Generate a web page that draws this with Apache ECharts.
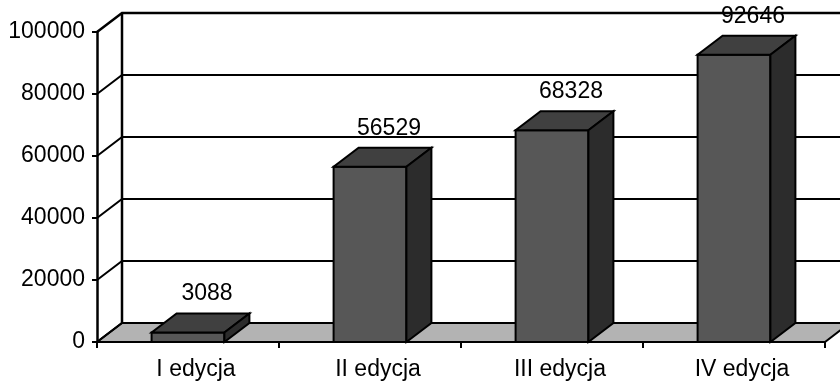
<!DOCTYPE html>
<html>
<head>
<meta charset="utf-8">
<script src="https://cdn.jsdelivr.net/npm/echarts@6/dist/echarts.min.js"></script>
<style>
  html, body { margin: 0; padding: 0; background: #fff; }
  #chart { width: 840px; height: 381px; }
</style>
</head>
<body>
<div id="chart"></div>
<script>
// Data
const categories = ['I edycja', 'II edycja', 'III edycja', 'IV edycja'];
const values = [3088, 56529, 68328, 92646];
const yTicks = [0, 20000, 40000, 60000, 80000, 100000];

// 3D depth offset of walls, floor and bars
const DX = 25, DY = -19;
const FONT = '"Liberation Sans", Arial, sans-serif';
const yMax = yTicks[yTicks.length - 1];

const chart = echarts.init(document.getElementById('chart'), null, { renderer: 'canvas' });

function floorItem(params, api) {
  const cs = params.coordSys;
  const y0 = api.coord([0, 0])[1];
  const yTop = api.coord([0, yMax])[1];
  const xl = cs.x, xr = cs.x + cs.width;
  return {
    type: 'group',
    children: [
      {
        type: 'polygon',
        shape: { points: [[xl, y0], [xr, y0], [xr + DX, y0 + DY], [xl + DX, y0 + DY]] },
        style: { fill: '#b3b3b3', stroke: '#000', lineWidth: 2 }
      },
      {
        type: 'line',
        shape: { x1: xl + DX, y1: y0 + DY, x2: xl + DX, y2: yTop + DY },
        style: { stroke: '#000', lineWidth: 2.5 }
      }
    ]
  };
}

function gridItem(params, api) {
  const cs = params.coordSys;
  const v = api.value(1);
  const y = api.coord([0, v])[1];
  const xl = cs.x, xr = cs.x + cs.width;
  return {
    type: 'polyline',
    shape: { points: [[xl, y], [xl + DX, y + DY], [xr + DX + 10, y + DY]] },
    style: { fill: null, stroke: '#000', lineWidth: v === yMax ? 2.5 : 2 }
  };
}

function barItem(params, api) {
  const idx = api.value(0);
  const v = api.value(1);
  const top = api.coord([idx, v]);
  const base = api.coord([idx, 0]);
  const bw = api.size([1, 0])[0];
  const half = bw * 0.2;
  const xl = top[0] - half, xr = top[0] + half;
  const yt = top[1], yb = base[1];
  const edge = { stroke: '#000', lineWidth: 2, lineJoin: 'miter' };
  return {
    type: 'group',
    children: [
      {
        type: 'polygon',
        shape: { points: [[xl, yt], [xr, yt], [xr, yb], [xl, yb]] },
        style: Object.assign({ fill: '#575757' }, edge)
      },
      {
        type: 'polygon',
        shape: { points: [[xl, yt], [xr, yt], [xr + DX, yt + DY], [xl + DX, yt + DY]] },
        style: Object.assign({ fill: '#404040' }, edge)
      },
      {
        type: 'polygon',
        shape: { points: [[xr, yt], [xr + DX, yt + DY], [xr + DX, yb + DY], [xr, yb]] },
        style: Object.assign({ fill: '#2c2c2c' }, edge)
      },
      {
        type: 'text',
        style: {
          text: String(v),
          x: top[0] + 19,
          y: yt + DY - 8,
          align: 'center',
          verticalAlign: 'bottom',
          fontSize: 23,
          fontFamily: FONT,
          fill: '#000'
        }
      }
    ]
  };
}

chart.setOption({
  animation: false,
  backgroundColor: '#fff',
  grid: { left: 97, right: 15, top: 32, bottom: 37 },
  xAxis: {
    type: 'category',
    data: categories,
    boundaryGap: true,
    axisLine: { show: true, lineStyle: { color: '#000', width: 2 } },
    axisTick: { show: true, length: 6, lineStyle: { color: '#000', width: 2 } },
    axisLabel: { color: '#000', fontSize: 23, fontFamily: FONT, margin: 16, padding: [0, 0, 0, 16] },
    splitLine: { show: false }
  },
  yAxis: {
    type: 'value',
    min: 0,
    max: yMax,
    interval: 20000,
    axisLine: { show: true, lineStyle: { color: '#000', width: 2.5 } },
    axisTick: { show: true, length: 5, lineStyle: { color: '#000', width: 2 } },
    axisLabel: {
      color: '#000', fontSize: 23, fontFamily: FONT, margin: 12,
      formatter: v => String(v)
    },
    splitLine: { show: false }
  },
  series: [
    {
      type: 'custom',
      z: 1,
      silent: true,
      renderItem: floorItem,
      data: [[0, 0]]
    },
    {
      type: 'custom',
      z: 2,
      silent: true,
      renderItem: gridItem,
      data: yTicks.map(v => [0, v])
    },
    {
      type: 'custom',
      z: 3,
      renderItem: barItem,
      data: values.map((v, i) => [i, v])
    }
  ]
});
</script>
</body>
</html>
